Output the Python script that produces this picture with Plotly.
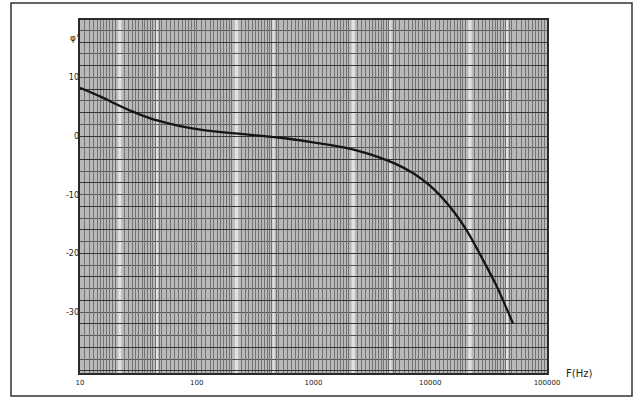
import numpy as np
import plotly.graph_objects as go

# Data (frequency in Hz, phase in degrees)
freq_hz = [10, 15, 20, 28, 40, 56, 80, 107, 200, 290, 520, 930, 1860, 2500,
           3500, 5000, 7100, 10000, 14800, 21000, 28300, 37300, 51000]
phase_deg = [8.2, 6.7, 5.5, 4.2, 3.0, 2.2, 1.5, 1.1, 0.5, 0.2, -0.3, -1.0,
             -2.0, -2.6, -3.5, -4.7, -6.3, -8.5, -12.1, -16.4, -21.1, -25.7, -31.9]

x_tick_vals = [10, 100, 1000, 10000, 100000]
x_tick_text = ["10", "100", "1000", "10000", "100000"]
y_tick_vals = [10, 0, -10, -20, -30]
y_tick_text = ["10", "0", "-10", "-20", "-30"]

W, H = 641, 400
L, R, T, B = 80, 94, 20, 27
y_range = [-40.37, 19.76]
x_range = [1, 5]
decades = [10, 100, 1000, 10000]
band_factors = [(2.12, 2.26), (4.45, 4.65)]

# log graph-paper vertical rulings (skipping the pale bands of the scan)
paper_lines = []
for d in decades:
    ks = list(np.arange(1.0, 2.0, 0.1)) + list(np.arange(2.0, 5.0, 0.2)) + list(np.arange(5.0, 10.0, 0.5))
    for k in ks:
        if any(a <= k <= b for a, b in band_factors):
            continue
        paper_lines.append(d * k)
paper_lines.append(100000)

shapes = [dict(type="rect", xref="paper", yref="paper",
               x0=-(L - 11) / (W - L - R), x1=1 + (R - 9) / (W - L - R),
               y0=-(B - 4) / (H - T - B), y1=1 + (T - 3) / (H - T - B),
               line=dict(color="#333", width=1.5), layer="below")]
for d in decades:
    for a, b in band_factors:
        shapes.append(dict(type="rect", xref="x", yref="paper", x0=d * a, x1=d * b,
                           y0=0, y1=1, fillcolor="#e2e2e2", line=dict(width=0),
                           layer="below"))

fig = go.Figure()
fig.add_trace(go.Scatter(
    x=freq_hz, y=phase_deg, mode="lines",
    line=dict(color="#151515", width=2.3, shape="spline", smoothing=0.8),
    showlegend=False, hoverinfo="skip"))
fig.add_trace(go.Scatter(x=[10], y=[0], mode="markers", marker=dict(opacity=0),
                         xaxis="x2", yaxis="y2", showlegend=False, hoverinfo="skip"))

fig.update_layout(
    width=W, height=H,
    margin=dict(l=L, r=R, t=T, b=B),
    paper_bgcolor="white",
    plot_bgcolor="#b9b9b9",
    font=dict(family="DejaVu Sans", size=8, color="#222"),
    xaxis=dict(type="log", range=x_range, tickmode="array", tickvals=paper_lines,
               showticklabels=False, ticks="", showgrid=True,
               gridcolor="#727272", gridwidth=1, zeroline=False,
               showline=True, mirror=True, linecolor="#2a2a2a", linewidth=2),
    yaxis=dict(range=y_range, tick0=0, dtick=4, showticklabels=False, ticks="",
               showgrid=True, gridcolor="#353535", gridwidth=1.3, zeroline=False,
               minor=dict(dtick=2, tick0=0, showgrid=True, gridcolor="#555555", gridwidth=1),
               showline=True, mirror=True, linecolor="#2a2a2a", linewidth=2),
    xaxis2=dict(type="log", range=x_range, overlaying="x", tickmode="array",
                tickvals=x_tick_vals, ticktext=x_tick_text, showgrid=False,
                zeroline=False, ticks="", ticklabelstandoff=4,
                tickfont=dict(size=7, color="#222")),
    yaxis2=dict(range=y_range, overlaying="y", side="left", tickmode="array",
                tickvals=y_tick_vals, ticktext=y_tick_text, showgrid=False,
                zeroline=False, ticks="", tickfont=dict(size=8, color="#222")),
    shapes=shapes,
    annotations=[
        dict(text="F(Hz)", xref="paper", yref="paper", showarrow=False,
             x=1 + (594 - (W - R)) / (W - L - R), y=-(381 - (H - B)) / (H - T - B),
             font=dict(size=10, color="#222")),
        dict(text="φ°", xref="paper", yref="paper", showarrow=False,
             x=-(L - 68) / (W - L - R), y=1 - (31 - T) / (H - T - B),
             font=dict(size=9, color="#222")),
    ],
)

fig.write_html("out.html", config={"displayModeBar": False},
               post_script="document.body.style.margin='0';")
